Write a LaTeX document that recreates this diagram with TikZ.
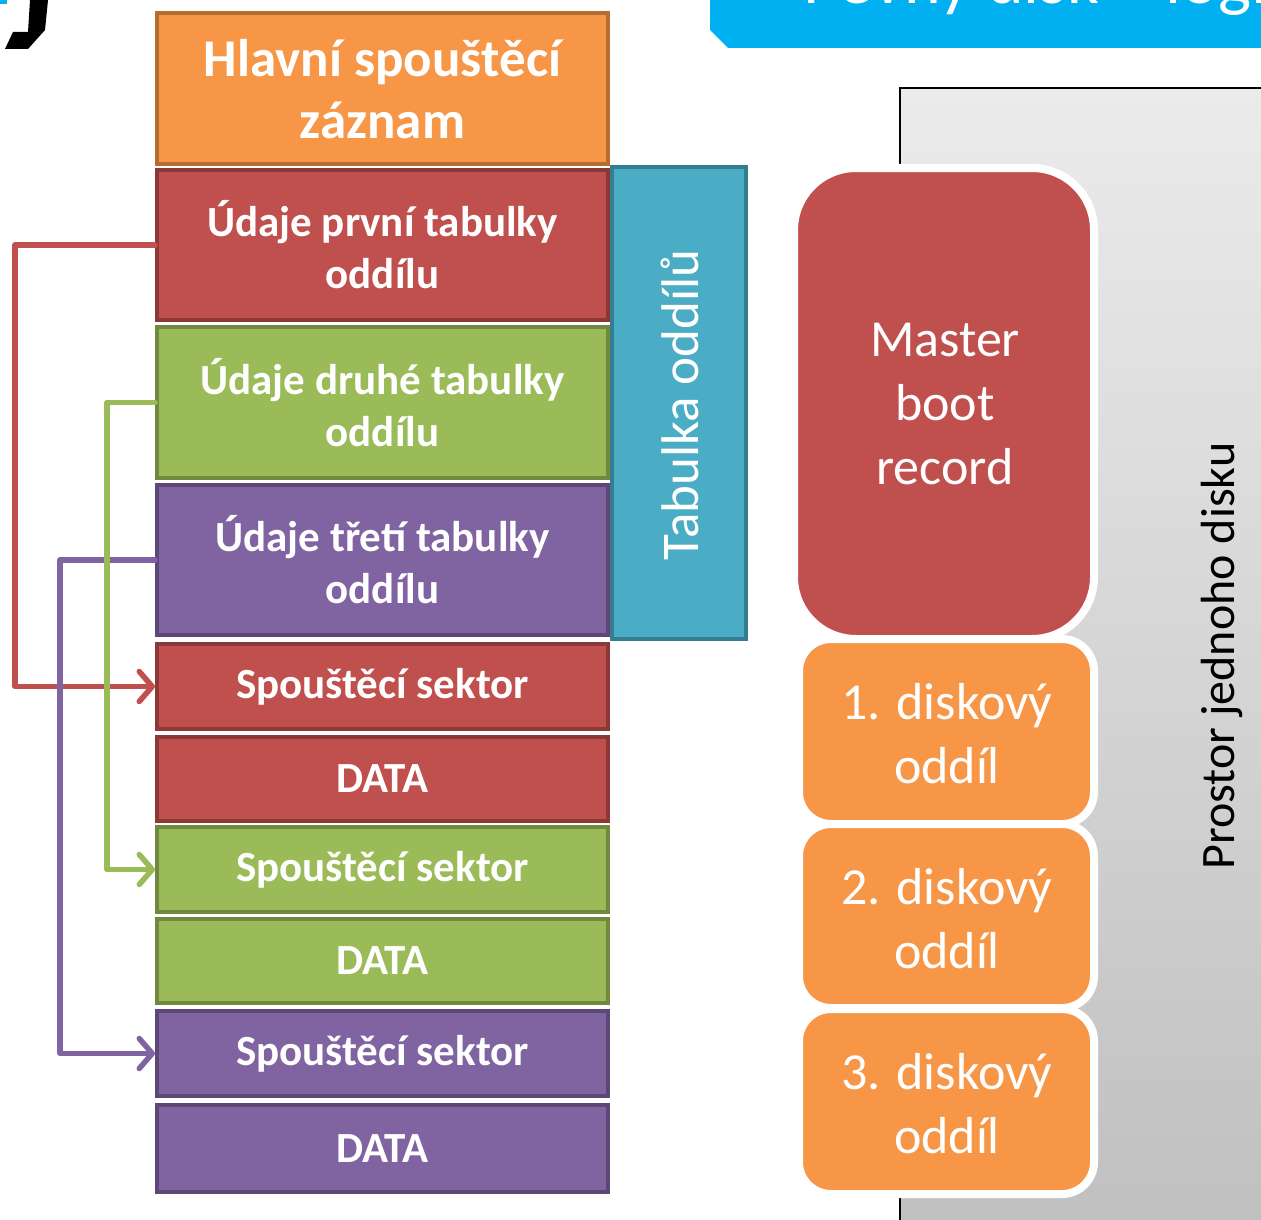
\documentclass[tikz,border=0pt]{standalone}
\usepackage{fontspec}
\setmainfont{Carlito}
\usetikzlibrary{arrows.meta}

\definecolor{cOrange}{HTML}{F79646}
\definecolor{cOrangeD}{HTML}{B66D31}
\definecolor{cRed}{HTML}{C0504D}
\definecolor{cRedD}{HTML}{8C3836}
\definecolor{cGreen}{HTML}{9BBB59}
\definecolor{cGreenD}{HTML}{71893F}
\definecolor{cPurple}{HTML}{8064A2}
\definecolor{cPurpleD}{HTML}{5C4776}
\definecolor{cTeal}{HTML}{4BACC6}
\definecolor{cTealD}{HTML}{357D91}
\definecolor{cBanner}{HTML}{00B0F0}
\definecolor{cGrayTop}{HTML}{EBEBEB}
\definecolor{cGrayBot}{HTML}{C0C0C0}

\tikzset{
  block/.style={draw=#1, line width=4, anchor=center, inner sep=0,
    minimum width=451, text=white, align=center},
  head/.style={font=\fontsize{53}{62}\selectfont\bfseries},
  entry/.style={font=\fontsize{43}{52}\selectfont\bfseries},
  part/.style={draw=white, line width=8, rounded corners=#1},
  partlabel/.style={text=white, align=center, inner sep=0,
    font=\fontsize{52}{64}\selectfont},
  link/.style={line width=5.5, line cap=round, line join=round,
    -{Straight Barb[length=13,width=30,line cap=round,line join=round]}},
}

\begin{document}
\begin{tikzpicture}[x=1pt,y=-1pt]
\useasboundingbox (0,0) rectangle (1261,1220);

% title banner
\fill[cBanner] (710,-5) -- (1265,-5) -- (1265,48) -- (728,48) -- (710,30) -- cycle;
\begin{scope}
  \clip (710,-5) -- (1265,-5) -- (1265,48) -- (728,48) -- (710,30) -- cycle;
  \node[anchor=base west, inner sep=0, text=white,
        font=\fontsize{70}{70}\selectfont] (title) at (803,4)
        {Pevný disk – logi};
\end{scope}

% logo fragment
\fill[cBanner] (0,0) rectangle (7,4);
\fill[black] (30,0) -- (48,0) -- (45,30) -- (28,49) -- (5,49) -- (13,32) -- (28,32) -- cycle;

% left column: MBR layout
\node[block=cOrangeD, fill=cOrange, minimum height=151, head] (mbr) at (382.5,89)
  {Hlavní spouštěcí\\záznam};
\node[block=cRedD, fill=cRed, minimum height=150, entry] (t1) at (382.5,245)
  {Údaje první tabulky\\oddílu};
\node[block=cGreenD, fill=cGreen, minimum height=151, entry] (t2) at (382.5,402.5)
  {Údaje druhé tabulky\\oddílu};
\node[block=cPurpleD, fill=cPurple, minimum height=150, entry] (t3) at (382.5,560)
  {Údaje třetí tabulky\\oddílu};
\node[block=cRedD, fill=cRed, minimum height=85, entry] (s1) at (382.5,686.5)
  {Spouštěcí sektor};
\node[block=cRedD, fill=cRed, minimum height=84, entry] (d1) at (382.5,779)
  {DATA};
\node[block=cGreenD, fill=cGreen, minimum height=85, entry] (s2) at (382.5,869.5)
  {Spouštěcí sektor};
\node[block=cGreenD, fill=cGreen, minimum height=84, entry] (d2) at (382.5,961)
  {DATA};
\node[block=cPurpleD, fill=cPurple, minimum height=85, entry] (s3) at (382.5,1053.5)
  {Spouštěcí sektor};
\node[block=cPurpleD, fill=cPurple, minimum height=87, entry] (d3) at (382.5,1148.5)
  {DATA};

% partition table bracket
\node[draw=cTealD, fill=cTeal, line width=4, inner sep=0, minimum width=134,
      minimum height=472] (ptab) at (679,403) {};
\node[rotate=90, text=white, inner sep=0, font=\fontsize{53}{53}\selectfont]
      (ptablbl) at (680,405) {Tabulka oddílů};

% links from table entries to boot sectors
\draw[link, cRed] (t1.west) -- ++(-140,0) |- (s1.west);
\draw[link, cPurple] (t3.west) -- ++(-95,0) |- (s3.west);
\draw[link, cGreen] (t2.west) -- ++(-48,0) |- (s2.west);

% right side: disk space
\shade[top color=cGrayTop, bottom color=cGrayBot] (900,88) rectangle (1265,1225);
\draw[black, line width=2] (900,1225) -- (900,88) -- (1265,88);
\node[rotate=90, inner sep=0, font=\fontsize{48}{48}\selectfont]
      (space) at (1222,656) {Prostor jednoho disku};

\path[part=62, fill=cRed] (794,168) rectangle (1094,639);
\node[partlabel] (mbrlbl) at (945,404) {Master\\boot\\record};
\path[part=32, fill=cOrange] (799,639) rectangle (1094,824);
\node[partlabel] (p1) at (947,734) {1. diskový\\oddíl};
\path[part=32, fill=cOrange] (799,824) rectangle (1094,1008);
\node[partlabel] (p2) at (947,919) {2. diskový\\oddíl};
\path[part=32, fill=cOrange] (799,1009) rectangle (1094,1194);
\node[partlabel] (p3) at (947,1104) {3. diskový\\oddíl};
\end{tikzpicture}
\end{document}
